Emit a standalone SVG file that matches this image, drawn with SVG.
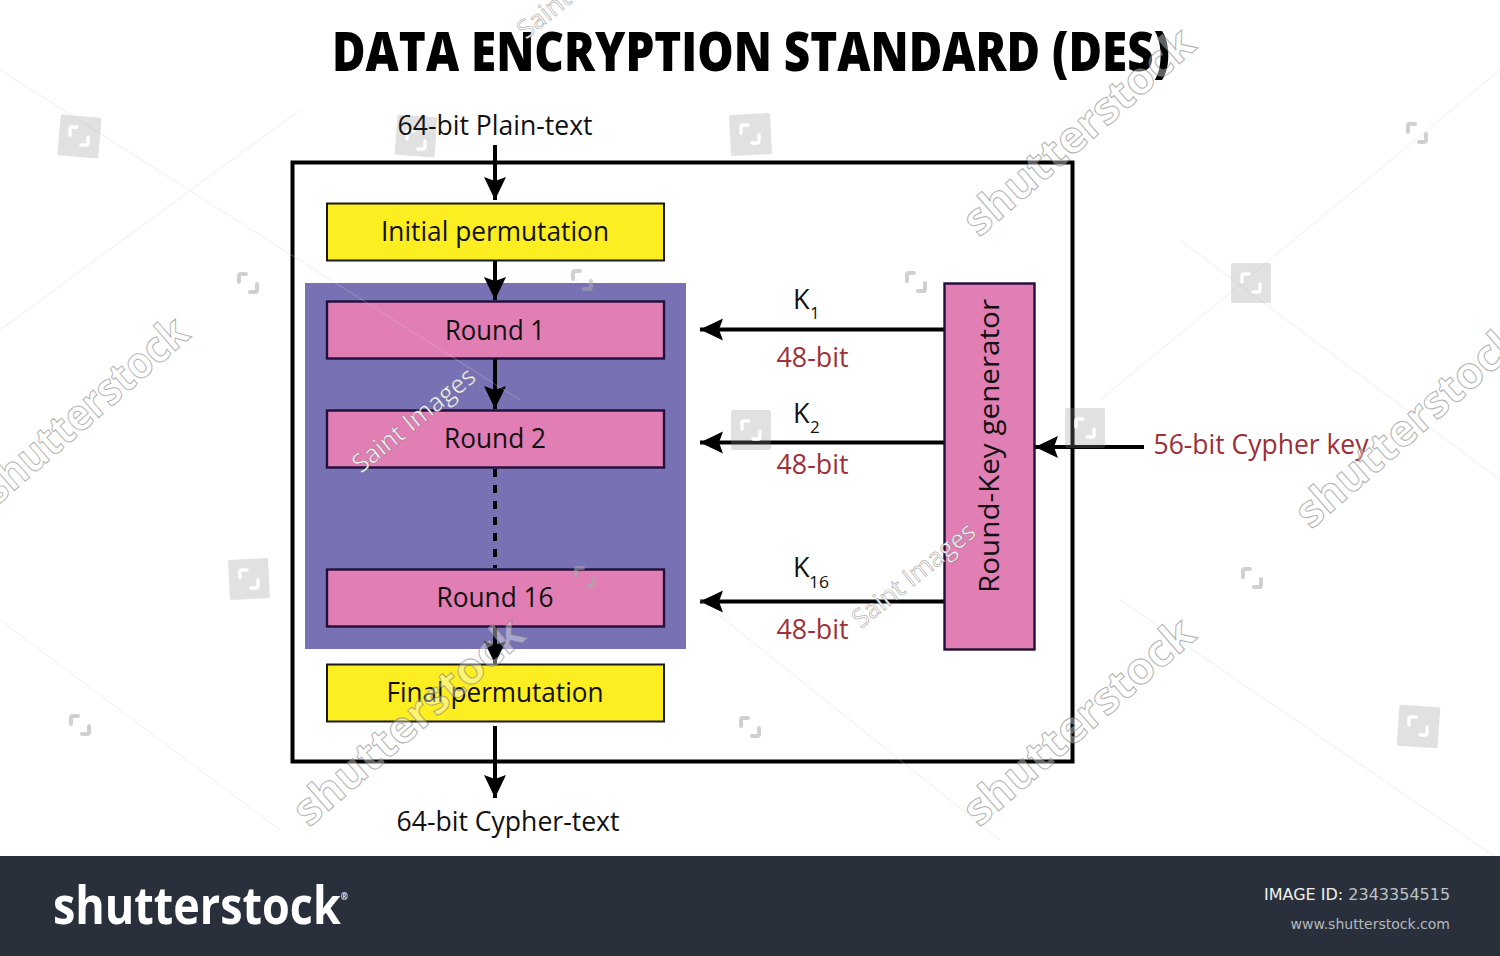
<svg xmlns="http://www.w3.org/2000/svg" xmlns:xlink="http://www.w3.org/1999/xlink" width="1500" height="956" viewBox="0 0 1500 956">
<style>
text{font-family:"Open Sans","Noto Sans","Liberation Sans",sans-serif}
.lbl{font-size:27px;fill:#111;text-anchor:middle}
.k{font-size:27px;fill:#111}
.sub{font-size:17px;fill:#111}
.red{font-size:27px;fill:#9c2f38;text-anchor:middle}
.yl{fill:#fcee21;stroke:#1a1a1a;stroke-width:2}
.pk{fill:#e17eb4;stroke:#1f0f3a;stroke-width:2.4}
.ar{stroke:#000;stroke-width:4;fill:none;marker-end:url(#ah)}
.ws{font-size:44px;font-weight:700;fill:#fff;fill-opacity:.4;stroke:#777;stroke-opacity:.55;stroke-width:1.1}
.si{font-size:26px;fill:#fff;fill-opacity:.95;stroke:#666;stroke-opacity:.55;stroke-width:.7}
.sq{fill:#8f8f8f;fill-opacity:.27}
.g{fill:none;stroke:#fff;stroke-width:3.4;stroke-linecap:round}
.g2{fill:none;stroke:#aaa;stroke-opacity:.55;stroke-width:4;stroke-linecap:round}
</style>
<defs>
<marker id="ah" markerUnits="userSpaceOnUse" markerWidth="24" markerHeight="24" refX="23" refY="11" orient="auto">
<path d="M0 0L23 11L0 22L4 11Z" fill="#000"/>
</marker>
<g id="mark"><path d="M-2-9H-7Q-9-9-9-7V-1M2 9H7Q9 9 9 7V1"/></g>
</defs>
<rect width="1500" height="956" fill="#fff"/>
<g id="title"><text x="751" y="71" font-size="54" font-weight="800" fill="#000" text-anchor="middle" textLength="838" lengthAdjust="spacingAndGlyphs">DATA ENCRYPTION STANDARD (DES)</text></g>
<g id="outer-frame"><rect x="292.500" y="162.500" width="780" height="599" fill="none" stroke="#000" stroke-width="4"/></g>
<g id="round-block"><rect x="305" y="283" width="381" height="366" fill="#7872b5"/></g>
<g id="connectors">
<path class="ar" d="M495 145V200"/>
<path class="ar" d="M495 261V300"/>
<path class="ar" d="M495 359V409"/>
<path d="M495 469V568" stroke="#000" stroke-width="4" stroke-dasharray="8 8" fill="none"/>
<path class="ar" d="M495 624V664"/>
<path class="ar" d="M495 726V798"/>
<path class="ar" d="M944 329.500H700"/>
<path class="ar" d="M944 442.500H700"/>
<path class="ar" d="M944 601.500H700"/>
<path class="ar" d="M1144 447H1035"/>
</g>
<rect class="sq" x="396" y="116" width="40" height="40" rx="2" transform="rotate(4 416 136)"/>
<use href="#mark" class="g" x="416" y="140"/>
<g id="plain-text"><text class="lbl" x="495" y="135" textLength="195" lengthAdjust="spacingAndGlyphs">64-bit Plain-text</text></g>
<g id="initial-permutation"><rect class="yl" x="327" y="203.500" width="337" height="57"/><text class="lbl" x="495" y="241" textLength="228" lengthAdjust="spacingAndGlyphs">Initial permutation</text></g>
<g id="round-1"><rect class="pk" x="327" y="301.500" width="337" height="57"/><text class="lbl" x="495" y="340" textLength="100" lengthAdjust="spacingAndGlyphs">Round 1</text></g>
<g id="round-2"><rect class="pk" x="327" y="410.500" width="337" height="57"/><text class="lbl" x="495" y="448" textLength="102" lengthAdjust="spacingAndGlyphs">Round 2</text></g>
<g id="round-16"><rect class="pk" x="327" y="569.500" width="337" height="57"/><text class="lbl" x="495" y="607" textLength="117" lengthAdjust="spacingAndGlyphs">Round 16</text></g>
<g id="final-permutation"><rect class="yl" x="327" y="664.500" width="337" height="57"/><text class="lbl" x="495" y="702" textLength="217" lengthAdjust="spacingAndGlyphs">Final permutation</text></g>
<g id="cypher-text"><text class="lbl" x="508" y="831" textLength="223" lengthAdjust="spacingAndGlyphs">64-bit Cypher-text</text></g>
<g id="round-key-generator"><rect class="pk" x="944.500" y="283.500" width="90" height="366"/><text class="lbl" transform="translate(999 446) rotate(-90)" textLength="294" lengthAdjust="spacingAndGlyphs">Round-Key generator</text></g>
<g id="cypher-key"><text class="red" x="1261" y="454" textLength="215" lengthAdjust="spacingAndGlyphs">56-bit Cypher key</text></g>
<g id="k1"><text class="k" x="793" y="309">K</text><text class="sub" x="810" y="319">1</text><text class="red" x="812.500" y="367" textLength="72" lengthAdjust="spacingAndGlyphs">48-bit</text></g>
<g id="k2"><text class="k" x="793" y="423">K</text><text class="sub" x="810" y="433">2</text><text class="red" x="812.500" y="474" textLength="72" lengthAdjust="spacingAndGlyphs">48-bit</text></g>
<g id="k16"><text class="k" x="793" y="577">K</text><text class="sub" x="809" y="588" textLength="20" lengthAdjust="spacingAndGlyphs">16</text><text class="red" x="812.500" y="639" textLength="72" lengthAdjust="spacingAndGlyphs">48-bit</text></g>
<g id="watermarks">
<g fill="none" stroke="#cfcfcf" stroke-opacity=".35" stroke-width="1"><path d="M0 70L520 400M1500 70L1100 400M300 110L0 330M1120 600L1500 860M0 620L280 830M700 600L1000 840M1180 240L1500 480"/></g>
<rect class="sq" x="59" y="116" width="41" height="41" rx="2" transform="rotate(5 79 136)"/>
<rect class="sq" x="730" y="114" width="41" height="41" rx="2" transform="rotate(-3 750 134)"/>
<rect class="sq" x="1231" y="263" width="40" height="40" rx="2"/>
<rect class="sq" x="229" y="559" width="40" height="40" rx="2" transform="rotate(-3 249 579)"/>
<rect class="sq" x="1398" y="706" width="41" height="41" rx="2" transform="rotate(4 1418 726)"/>
<rect class="sq" x="731" y="410" width="40" height="40" rx="2"/>
<rect class="sq" x="1065" y="408" width="40" height="40" rx="2"/>
<use href="#mark" class="g" x="79" y="136"/><use href="#mark" class="g" x="750" y="134"/>
<use href="#mark" class="g" x="1251" y="283"/><use href="#mark" class="g" x="249" y="579"/><use href="#mark" class="g" x="1418" y="726"/>
<use href="#mark" class="g" x="751" y="430"/><use href="#mark" class="g" x="1085" y="428"/>
<use href="#mark" class="g2" x="248" y="283"/><use href="#mark" class="g2" x="582" y="280"/><use href="#mark" class="g2" x="916" y="282"/>
<use href="#mark" class="g2" x="1417" y="133"/><use href="#mark" class="g2" x="585" y="577"/><use href="#mark" class="g2" x="1252" y="578"/>
<use href="#mark" class="g2" x="80" y="725"/><use href="#mark" class="g2" x="750" y="727"/>
<text class="si" transform="translate(361 474) rotate(-39)" textLength="150" lengthAdjust="spacingAndGlyphs">Saint Images</text>
<text class="si" transform="translate(861 629) rotate(-39)" textLength="150" lengthAdjust="spacingAndGlyphs">Saint Images</text>
<text class="si" transform="translate(526 40) rotate(-39)">Saint</text>
<text class="ws" transform="translate(979 238) rotate(-41)" textLength="290" lengthAdjust="spacingAndGlyphs">shutterstock</text>
<text class="ws" transform="translate(-3 506) rotate(-41)" textLength="258" lengthAdjust="spacingAndGlyphs">shutterstock</text>
<text class="ws" transform="translate(1311 530) rotate(-41)" textLength="285" lengthAdjust="spacingAndGlyphs">shutterstock</text>
<text class="ws" transform="translate(309 828) rotate(-41)" textLength="290" lengthAdjust="spacingAndGlyphs">shutterstock</text>
<text class="ws" transform="translate(979 828) rotate(-41)" textLength="290" lengthAdjust="spacingAndGlyphs">shutterstock</text>
</g>
<g id="footer">
<rect y="856" width="1500" height="100" fill="#29303b"/>
<text x="53" y="924" font-size="52" font-weight="700" fill="#fff" textLength="295" lengthAdjust="spacingAndGlyphs">shutterstock<tspan font-size="10" dy="-24">®</tspan></text>
<text x="1264" y="900" font-size="16" fill="#f0f0f0" style="font-family:'DejaVu Sans',sans-serif">IMAGE ID: <tspan fill="#bfc2c6">2343354515</tspan></text>
<text x="1450" y="929" font-size="14" fill="#b5b8bc" text-anchor="end" style="font-family:'DejaVu Sans',sans-serif">www.shutterstock.com</text>
</g>
</svg>
